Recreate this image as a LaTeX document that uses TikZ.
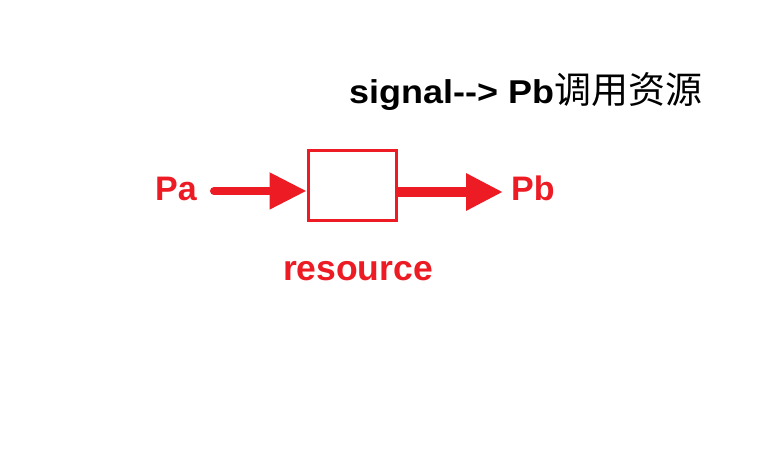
\documentclass[tikz,border=0pt]{standalone}
\usepackage{fontspec}
\setmainfont{Liberation Sans}
\newfontfamily\titlefont[FakeStretch=1.09]{Liberation Sans}
\newfontfamily\cjk{Noto Sans CJK SC}
\usetikzlibrary{arrows.meta}
\definecolor{sigred}{HTML}{ED1C24}

\begin{document}
\begin{tikzpicture}[x=1pt,y=-1pt,
    redtext/.style={text=sigred,font=\fontsize{34}{40}\selectfont\bfseries,inner sep=0pt},
    resbox/.style={draw=sigred,line width=3pt,minimum width=88pt,minimum height=70pt,inner sep=0pt},
    bigarrow/.style={draw=sigred,-{Triangle[length=37pt,width=35pt]}}]
    \useasboundingbox (0,0) rectangle (761,449);
    \node[resbox]                          (res)   at (352,186)  {};
    \node[redtext,anchor=base west]        (pa)    at (155,201)  {Pa};
    \node[redtext,anchor=base west]        (pb)    at (511,201)  {Pb};
    \node[redtext,anchor=base,font=\fontsize{35.5}{40}\selectfont\bfseries]
                                           (label) at (358,281)  {resource};
    \node[anchor=base west,inner sep=0pt,font=\fontsize{33}{40}\titlefont\bfseries]
                                           (title) at (349,104)
        {signal-\kern0pt-\kern0pt> Pb{\cjk\mdseries\fontsize{37}{40}\selectfont 调用资源}};
    \coordinate (out) at ([yshift=-6pt]res.east);

    \draw[bigarrow,line width=8pt,line cap=round]
        ([xshift=17pt,yshift=-1.5pt]pa.east) -- ([yshift=-1.5pt]pa.east -| res.west);
    \draw[bigarrow,line width=10pt]
        (out) -- ([xshift=-8pt]pb.west |- out);
\end{tikzpicture}
\end{document}
